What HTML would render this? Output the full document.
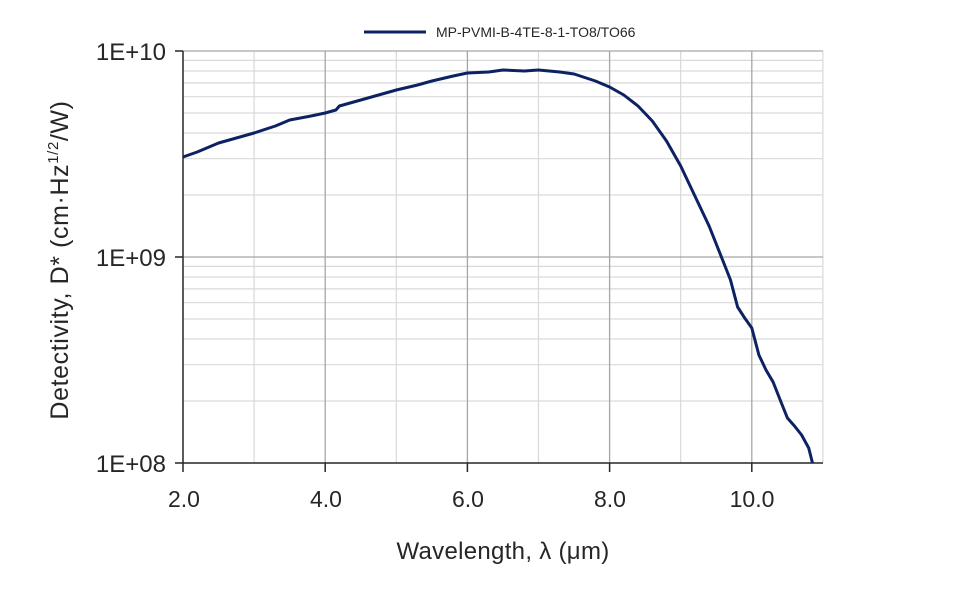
<!DOCTYPE html>
<html><head><meta charset="utf-8"><style>
html,body{margin:0;padding:0;background:#fff;}
svg{display:block;}
text{font-family:"Liberation Sans",sans-serif;}
</style></head><body>
<svg width="967" height="599" viewBox="0 0 967 599" xmlns="http://www.w3.org/2000/svg">
<g stroke="#d9d9d9" stroke-width="1.2">
<line x1="183" x2="823" y1="401.0" y2="401.0"/><line x1="183" x2="823" y1="364.7" y2="364.7"/>
<line x1="183" x2="823" y1="339.0" y2="339.0"/><line x1="183" x2="823" y1="319.0" y2="319.0"/>
<line x1="183" x2="823" y1="302.7" y2="302.7"/><line x1="183" x2="823" y1="288.9" y2="288.9"/>
<line x1="183" x2="823" y1="277.0" y2="277.0"/><line x1="183" x2="823" y1="266.4" y2="266.4"/>
<line x1="183" x2="823" y1="195.0" y2="195.0"/><line x1="183" x2="823" y1="158.7" y2="158.7"/>
<line x1="183" x2="823" y1="133.0" y2="133.0"/><line x1="183" x2="823" y1="113.0" y2="113.0"/>
<line x1="183" x2="823" y1="96.7" y2="96.7"/><line x1="183" x2="823" y1="82.9" y2="82.9"/>
<line x1="183" x2="823" y1="71.0" y2="71.0"/><line x1="183" x2="823" y1="60.4" y2="60.4"/>
<line x1="254.1" x2="254.1" y1="51" y2="463"/><line x1="396.3" x2="396.3" y1="51" y2="463"/>
<line x1="538.5" x2="538.5" y1="51" y2="463"/><line x1="680.7" x2="680.7" y1="51" y2="463"/>
<line x1="822.9" x2="822.9" y1="51" y2="463"/>
</g>
<g stroke="#a6a6a6" stroke-width="1.3">
<line x1="325.2" x2="325.2" y1="51" y2="463"/><line x1="467.4" x2="467.4" y1="51" y2="463"/>
<line x1="609.6" x2="609.6" y1="51" y2="463"/><line x1="751.8" x2="751.8" y1="51" y2="463"/>
<line x1="183" x2="823" y1="51" y2="51"/><line x1="183" x2="823" y1="257" y2="257"/>
</g>
<g stroke="#262626" stroke-width="1.5">
<line x1="183" x2="183" y1="51" y2="463"/>
<line x1="183" x2="823" y1="463" y2="463"/>
<line x1="175" x2="183" y1="51" y2="51"/><line x1="175" x2="183" y1="257" y2="257"/><line x1="175" x2="183" y1="463" y2="463"/>
<line x1="183" x2="183" y1="463" y2="472"/><line x1="325.2" x2="325.2" y1="463" y2="472"/>
<line x1="467.4" x2="467.4" y1="463" y2="472"/><line x1="609.6" x2="609.6" y1="463" y2="472"/>
<line x1="751.8" x2="751.8" y1="463" y2="472"/>
</g>
<polyline fill="none" stroke="#0d2262" stroke-width="3" stroke-linejoin="round" points="183,157 197.2,152 218.6,143 239.9,137 254.1,133 275.4,126 289.7,120 311.0,116 325.2,113 335.9,110 339.4,106 360.8,100 382.1,94 396.3,90 417.6,85 431.9,81 453.2,76 467.4,73 488.7,72 503.0,70 524.3,71 538.5,70 559.8,72 574.1,74 595.4,81 609.6,87 623.8,95 638.0,106 652.3,121 666.5,141 680.7,166 694.9,196 709.1,226 723.4,262 730.5,280 737.6,307 744.7,318 751.8,328 758.9,355 766.0,370 773.1,382 780.2,400 787.4,418 794.5,426 801.6,435 808.7,448 812.5,463"/>
<line x1="364" x2="426" y1="32" y2="32" stroke="#0d2262" stroke-width="3"/>
<text x="436" y="37" font-size="14" fill="#262626">MP-PVMI-B-4TE-8-1-TO8/TO66</text>
<g font-size="24" fill="#262626" text-anchor="end">
<text x="166" y="60">1E+10</text>
<text x="166" y="266">1E+09</text>
<text x="166" y="472">1E+08</text>
</g>
<g font-size="23" fill="#262626" text-anchor="middle">
<text x="184" y="507">2.0</text>
<text x="326" y="507">4.0</text>
<text x="468" y="507">6.0</text>
<text x="610" y="507">8.0</text>
<text x="752" y="507">10.0</text>
<text x="503" y="559" font-size="24" letter-spacing="0.3">Wavelength, λ (μm)</text>
</g>
<text transform="translate(68,260) rotate(-90)" font-size="25" fill="#262626" text-anchor="middle" letter-spacing="0.6">Detectivity, D* (cm·Hz<tspan font-size="15" dy="-10">1/2</tspan><tspan dy="10">/W)</tspan></text>
</svg>
</body></html>
